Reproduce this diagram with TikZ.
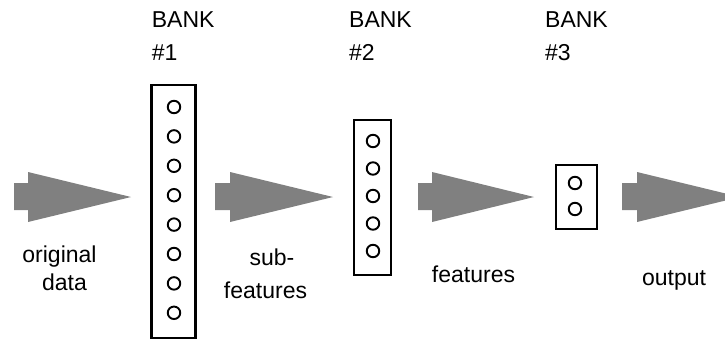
\documentclass[tikz,border=0pt]{standalone}
\usepackage{fontspec}
\setmainfont{Liberation Sans}
\definecolor{flowgray}{RGB}{128,128,128}
\begin{document}
\begin{tikzpicture}[x=1pt,y=-1pt,
  bank/.style={draw, line width=2.2pt, inner sep=0pt},
  unit/.style={circle, draw, line width=1.9pt, minimum size=12.5pt, inner sep=0pt},
  lbl/.style={font=\fontsize{23}{28}\selectfont, inner sep=0pt, anchor=base},
  flow/.style={fill=flowgray}]
\useasboundingbox (0,0) rectangle (725,341);
\clip (0,0) rectangle (725,341);
% flow arrows
\foreach \s/\h/\t [count=\k] in {14/28/131, 215/230/333, 418/432/534, 622/637/740} {
  \coordinate (f\k) at (\s,196.5);
  \fill[flow] (\s,183) -- (\h,183) -- (\h,172) -- (\t,197) -- (\h,222) -- (\h,210) -- (\s,210) -- cycle;
}
% banks
\node[bank, minimum width=44pt, minimum height=253pt] (b1) at (173.5,211.5) {};
\node[bank, minimum width=37pt, minimum height=155pt] (b2) at (372.5,197.5) {};
\node[bank, minimum width=41pt, minimum height=64pt] (b3) at (576.5,197) {};
\foreach \i in {0,...,7} \node[unit] (u1-\i) at (174,107+\i*29.4) {};
\foreach \i in {0,...,4} \node[unit] (u2-\i) at (373,141+\i*27.5) {};
\foreach \i in {0,1} \node[unit] (u3-\i) at (575,183+\i*26) {};
% bank titles
\node[lbl, anchor=base west] (t1a) at (151.7,27) {BANK};
\node[lbl, anchor=base west] (t1b) at (151.7,60) {\#1};
\node[lbl, anchor=base west] (t2a) at (349,27) {BANK};
\node[lbl, anchor=base west] (t2b) at (349,60) {\#2};
\node[lbl, anchor=base west] (t3a) at (545,27) {BANK};
\node[lbl, anchor=base west] (t3b) at (545,60) {\#3};
% flow labels
\node[lbl] (l1a) at (59.5,262) {original};
\node[lbl] (l1b) at (64.5,290) {data};
\node[lbl] (l2a) at (272,265) {sub-};
\node[lbl] (l2b) at (265.5,298) {features};
\node[lbl] (l3) at (473.5,282) {features};
\node[lbl] (l4) at (674,285) {output};
\end{tikzpicture}
\end{document}
